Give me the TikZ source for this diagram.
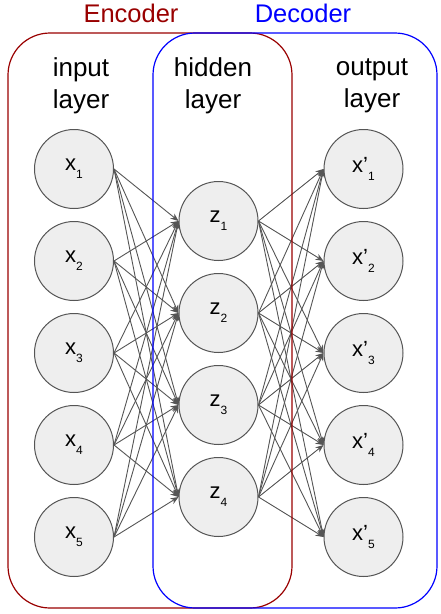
\documentclass[tikz,border=0pt]{standalone}
\usepackage{fontspec}
\setmainfont{Liberation Sans}
\usetikzlibrary{arrows.meta}
\definecolor{enc}{HTML}{990000}
\definecolor{dec}{HTML}{0000FF}
\definecolor{nodefill}{HTML}{EEEEEE}
\definecolor{edgegray}{HTML}{555555}
\newcommand{\nsub}[1]{\raisebox{-8pt}{\fontsize{12}{12}\selectfont #1}}
\begin{document}
\begin{tikzpicture}[x=1pt,y=-1pt,
  neuron/.style={circle,draw=edgegray,fill=nodefill,line width=1pt,minimum size=79pt,inner sep=0pt,font=\fontsize{22}{22}\selectfont},
  conn/.style={draw=edgegray,line width=0.9pt,-{Stealth[length=8pt,width=6.5pt]}},
  box/.style={rounded corners=42pt,line width=1.2pt},
  title/.style={font=\fontsize{25.5}{25.5}\selectfont},
  layertext/.style={font=\fontsize{26}{32}\selectfont,align=center}]
\useasboundingbox (0,0) rectangle (441,614);

% input layer
\node[neuron] (x1) at (74,169) {x\nsub{1}};
\node[neuron] (x2) at (74,261) {x\nsub{2}};
\node[neuron] (x3) at (74,353) {x\nsub{3}};
\node[neuron] (x4) at (74,445) {x\nsub{4}};
\node[neuron] (x5) at (74,537) {x\nsub{5}};
% hidden layer
\node[neuron] (z1) at (218.5,221) {z\nsub{1}};
\node[neuron] (z2) at (218.5,313) {z\nsub{2}};
\node[neuron] (z3) at (218.5,405) {z\nsub{3}};
\node[neuron] (z4) at (218.5,497) {z\nsub{4}};
% output layer
\node[neuron] (y1) at (363.5,169) {x’\nsub{1}};
\node[neuron] (y2) at (363.5,261) {x’\nsub{2}};
\node[neuron] (y3) at (363.5,353) {x’\nsub{3}};
\node[neuron] (y4) at (363.5,445) {x’\nsub{4}};
\node[neuron] (y5) at (363.5,537) {x’\nsub{5}};

% connections
\foreach \i in {1,...,5}{
  \foreach \j in {1,...,4}{
    \draw[conn] (x\i.east) -- (z\j.west);
    \draw[conn] (z\j.east) -- (y\i.west);
  }
}

% boxes
\draw[box,enc] (8,33) rectangle (292,608);
\draw[box,dec] (153,33) rectangle (437,608);

% titles
\node[title,text=enc] (enct) at (131,13) {Encoder};
\node[title,text=dec] (dect) at (303,13) {Decoder};

% layer labels
\node[layertext] (lin) at (81,86) {input\\layer};
\node[layertext] (lhid) at (213,86) {hidden\\layer};
\node[layertext] (lout) at (372,86) {output\\layer};
\end{tikzpicture}
\end{document}
